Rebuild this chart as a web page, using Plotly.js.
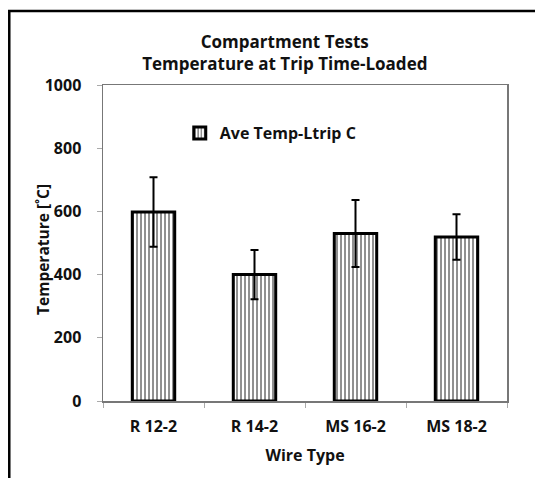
<!DOCTYPE html>
<html>
<head>
<meta charset="utf-8">
<script src="https://cdn.plot.ly/plotly-3.0.1.min.js"></script>
<style>
html,body{margin:0;padding:0;background:#fff;overflow:hidden;}
#chart{width:535px;height:478px;}
</style>
</head>
<body>
<div id="chart"></div>
<script>
var categories = ["R 12-2", "R 14-2", "MS 16-2", "MS 18-2"];
var aveTemp = [598, 400, 530, 519];
var errTemp = [110, 78, 106, 72];
var yTicks = [0, 200, 400, 600, 800, 1000];

var font = "Open Sans, sans-serif";

var trace = {
  type: "bar",
  x: categories,
  y: aveTemp,
  name: "Ave Temp-Ltrip C",
  width: 0.42,
  marker: {
    color: "white",
    line: {color: "black", width: 3},
    pattern: {shape: "|", fgcolor: "#222", bgcolor: "white", size: 4, solidity: 0.25}
  },
  error_y: {type: "data", array: errTemp, visible: true, color: "black", thickness: 2, width: 4}
};

var layout = {
  width: 535, height: 478,
  margin: {l: 103, r: 28, t: 85, b: 77},
  paper_bgcolor: "white", plot_bgcolor: "white",
  showlegend: true,
  title: {
    text: "<b>Compartment Tests<br>Temperature at Trip Time-Loaded</b>",
    font: {family: font, size: 17, color: "#111"},
    xref: "paper", x: 0.45, xanchor: "center",
    yref: "container", y: 0.9, yanchor: "top"
  },
  legend: {
    x: 0.19, y: 0.848, xanchor: "left", yanchor: "middle",
    font: {family: font, size: 16, color: "#111", weight: "bold"},
    bgcolor: "rgba(0,0,0,0)", itemwidth: 30
  },
  xaxis: {
    type: "category",
    showline: true, linecolor: "#777", linewidth: 1.5, mirror: true,
    ticks: "outside", tickcolor: "#aaa", ticklen: 5, tickson: "boundaries",
    showgrid: false,
    tickfont: {family: font, size: 16, color: "#111", weight: "bold"},
    ticklabelstandoff: 10,
    title: {text: "<b>Wire Type</b>", font: {family: font, size: 16, color: "#111"}, standoff: 14}
  },
  yaxis: {
    range: [0, 1000],
    tickvals: yTicks,
    showline: true, linecolor: "#777", linewidth: 1.5, mirror: true,
    ticks: "outside", tickcolor: "#aaa", ticklen: 5,
    showgrid: false, zeroline: false,
    tickfont: {family: font, size: 16, color: "#111", weight: "bold"},
    ticklabelstandoff: 12
  },
  annotations: [{
    text: "<b>Temperature [˚C]</b>", textangle: -90,
    xref: "paper", yref: "paper", x: -0.1485, y: 0.478,
    xanchor: "center", yanchor: "middle", showarrow: false,
    font: {family: font, size: 15.5, color: "#111"}
  }],
  shapes: [{
    type: "rect", xref: "paper", yref: "paper",
    x0: -0.232, x1: 1.2, y0: -0.6, y1: 1.234,
    line: {color: "black", width: 2.5}, fillcolor: "rgba(0,0,0,0)", layer: "above"
  }]
};

Plotly.newPlot("chart", [trace], layout, {displayModeBar: false, staticPlot: true});
</script>
</body>
</html>
